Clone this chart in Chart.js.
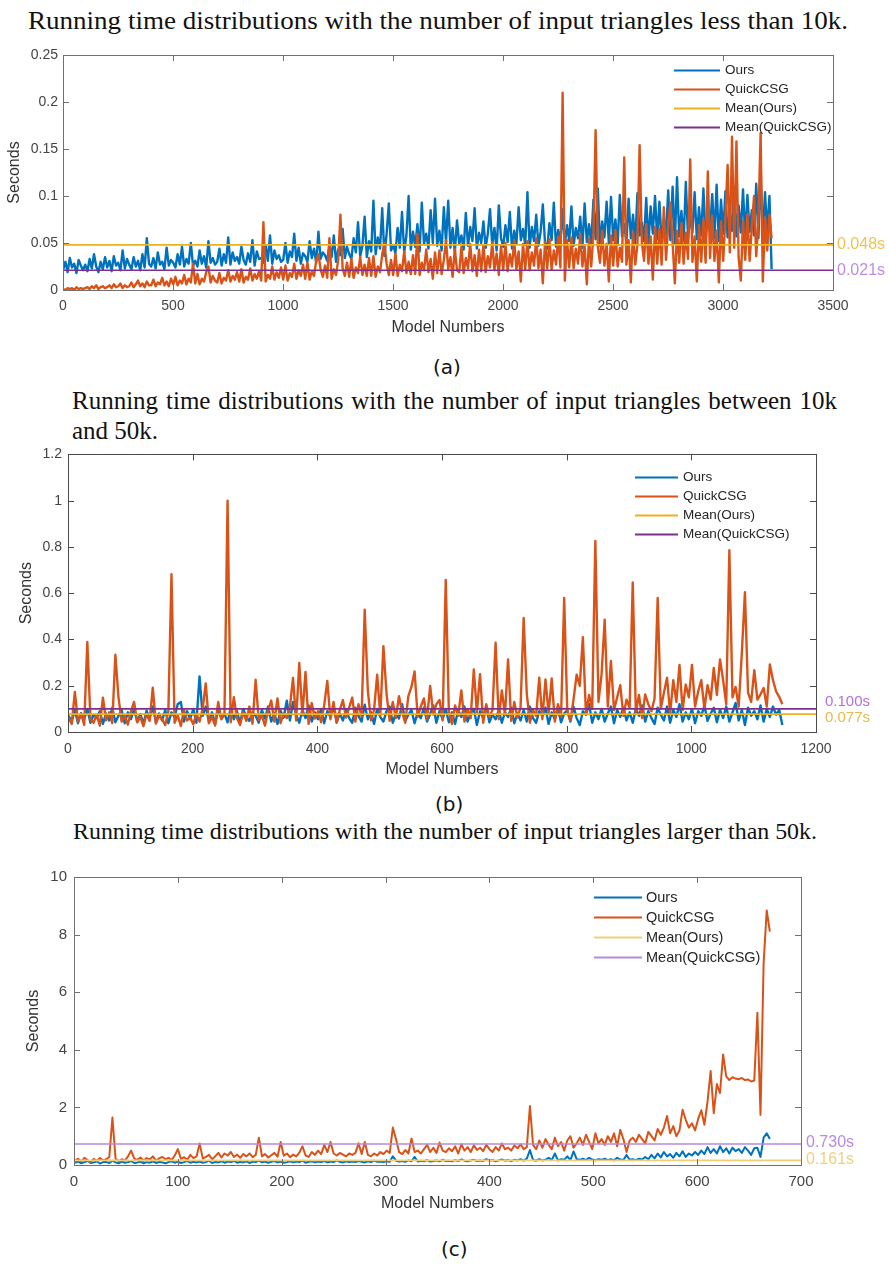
<!DOCTYPE html>
<html>
<head>
<meta charset="utf-8">
<script src="https://cdn.jsdelivr.net/npm/chart.js@4.4.0/dist/chart.umd.min.js"></script>
<style>
html,body{margin:0;padding:0;background:#fff;}
#page{position:relative;width:889px;height:1267px;overflow:hidden;background:#fff;}
canvas{position:absolute;left:0;}
.t{position:absolute;font-family:"Liberation Serif","Times New Roman",serif;color:#111;white-space:nowrap;transform-origin:0 0;line-height:1;}
.cap{position:absolute;font-family:"DejaVu Sans",Verdana,sans-serif;font-size:20px;color:#111;line-height:1;white-space:nowrap;}
</style>
</head>
<body>
<div id="page">
  <div class="t" data-w="820" data-mode="scale" style="left:28px;top:8px;font-size:25px;">Running time distributions with the number of input triangles less than 10k.</div>
  <canvas id="cA" width="889" height="300" style="top:40px;"></canvas>
  <div class="cap" style="left:433px;top:357px;">(a)</div>

  <div class="t" data-w="765" data-mode="justify" style="left:72px;top:388px;font-size:25px;">Running time distributions with the number of input triangles between 10k</div>
  <div class="t" style="left:72px;top:418px;font-size:25px;">and 50k.</div>
  <canvas id="cB" width="889" height="342" style="top:440px;"></canvas>
  <div class="cap" style="left:435px;top:794px;">(b)</div>

  <div class="t" data-w="744" data-mode="scale" style="left:73px;top:820px;font-size:23px;">Running time distributions with the number of input triangles larger than 50k.</div>
  <canvas id="cC" width="889" height="356" style="top:860px;"></canvas>
  <div class="cap" style="left:441px;top:1239px;">(c)</div>
</div>
<script>
// ---------------- DATA ----------------
const seriesNames = ['Ours', 'QuickCSG', 'Mean(Ours)', 'Mean(QuickCSG)'];

// Panel (a): < 10k triangles, one sample every 10 models, values in milliseconds
const modelStartA = 1, modelStepA = 10;
const oursA_ms = [
22,30,19,34,24,28,18,32,26,21,
27,20,33,23,38,25,19,30,22,35,
24,31,20,36,26,29,21,42,23,33,
27,22,35,25,31,21,38,24,55,28,
25,34,23,40,27,30,22,45,26,32,
29,24,38,27,46,25,33,28,50,26,
31,25,42,28,36,24,52,29,34,27,
30,44,26,38,29,56,27,40,31,35,
28,46,32,27,39,30,53,26,41,33,
34,29,48,31,58,28,42,33,37,30,
32,50,29,41,35,60,31,45,28,39,
36,30,52,34,44,29,62,33,40,37,
31,48,35,58,30,43,37,65,34,46,
38,33,55,40,72,36,47,78,35,52,
41,95,38,56,44,87,36,60,92,42,
48,39,66,45,83,40,58,100,43,62,
46,70,41,93,49,60,44,85,50,97,
47,63,42,88,51,95,45,66,40,74,
49,58,43,82,47,67,52,87,44,61,
50,73,45,60,86,48,66,42,90,55,
46,69,51,83,44,63,49,88,53,65,
48,104,45,67,52,80,47,62,91,50,
44,71,53,93,46,64,50,86,48,69,
52,89,47,66,55,78,45,92,51,70,
49,96,54,108,47,73,56,94,50,99,
53,75,48,101,57,70,51,97,55,80,
50,103,58,72,52,98,49,89,60,100,
54,94,51,76,59,106,53,110,50,120,
57,84,52,115,56,78,61,104,54,88,
58,108,53,80,62,102,55,112,52,96,
60,105,56,82,63,110,57,90,61,107,
56,101,62,85,58,113,55,122,60,104,
62,100,22];
const quickA_ms = [
1,0,2,1,2,0,3,1,2,1,
2,3,1,4,2,5,1,3,4,2,
3,5,2,6,3,4,7,2,5,3,
4,8,3,6,10,4,7,3,9,5,
5,11,4,8,6,13,5,9,4,12,
6,14,5,10,7,16,6,12,8,28,
7,17,6,12,9,19,25,8,15,10,
8,18,7,13,10,21,9,15,11,19,
9,22,8,14,11,23,10,17,12,20,
10,72,9,16,12,25,11,19,13,24,
11,26,10,18,14,28,12,21,15,27,
12,29,11,20,15,31,38,22,14,26,
13,55,12,22,16,32,80,23,15,29,
14,33,13,24,18,35,16,27,15,34,
15,36,14,25,19,38,50,28,16,32,
16,39,15,27,20,41,18,30,17,37,
17,60,16,29,21,43,19,33,12,40,
18,42,17,32,53,22,35,14,44,21,
19,46,18,34,23,49,20,37,15,43,
20,48,19,36,24,51,21,39,16,47,
21,50,20,38,25,53,22,41,9,49,
22,52,21,40,26,55,23,43,7,51,
23,54,22,42,27,57,24,210,10,53,
24,56,23,44,28,59,25,47,6,55,
25,60,170,46,29,63,26,49,9,58,
26,64,25,45,30,141,27,53,8,62,
27,48,154,51,31,70,28,57,11,67,
28,65,27,88,32,69,93,50,7,63,
29,71,28,61,33,139,30,57,9,69,
30,75,29,126,34,79,31,63,8,73,
31,77,133,40,163,45,158,35,10,74,
32,81,31,67,100,36,73,167,9,77,
42,80,55];
const meanOursA = 0.048, meanQuickA = 0.021;
const xTicksA = [0,500,1000,1500,2000,2500,3000,3500];
const yTicksA = [0,0.05,0.1,0.15,0.2,0.25];

// Panel (b): 10k - 50k triangles, one sample every 5 models, values in milliseconds
const modelStartB = 1, modelStepB = 5;
const oursB_ms = [
70,45,95,38,82,55,100,40,75,60,
90,35,80,50,105,42,70,95,38,85,
55,100,45,78,35,92,60,110,42,80,
50,95,38,85,65,120,130,45,90,55,
100,40,240,70,110,45,85,35,95,60,
80,42,105,55,90,38,100,65,48,85,
70,40,95,58,110,45,80,35,92,62,
135,50,130,75,40,95,60,115,45,85,
55,100,38,90,65,110,42,80,50,95,
60,40,105,70,45,118,55,85,35,100,
65,45,90,110,40,80,58,120,48,75,
95,38,85,60,105,45,78,115,40,90,
55,100,42,85,35,95,65,110,45,80,
100,30,90,60,110,42,75,55,95,40,
85,65,105,38,80,50,95,45,110,60,
40,90,70,105,35,85,55,100,42,80,
95,45,110,60,30,90,75,120,40,85,
55,100,45,80,110,38,95,65,105,50,
85,40,100,70,115,45,90,60,35,105,
75,50,110,40,95,65,120,45,85,55,
100,38,90,70,115,48,80,105,42,95,
60,110,45,85,125,50,95,30,105,70,
90,55,115,45,100,65,110,75,95,30];
const quickB_ms = [
60,35,173,45,80,30,389,55,40,75,
28,148,50,85,38,334,150,45,70,32,
90,130,42,65,25,78,48,192,36,70,
55,30,88,682,40,72,26,95,50,62,
33,80,45,100,210,38,66,28,130,55,
75,1000,42,150,60,30,85,48,110,36,
226,52,70,28,92,136,45,145,38,80,
60,110,234,50,298,72,260,35,125,58,
90,42,115,221,55,130,40,95,138,62,
105,149,45,120,68,529,180,50,95,248,
70,371,166,48,130,60,155,85,40,155,
195,262,65,110,145,55,199,75,120,138,
50,657,90,35,115,70,180,45,100,60,
270,85,250,40,120,65,95,386,55,180,
75,314,48,130,62,105,493,166,40,95,
70,235,55,227,80,231,45,120,68,579,
90,50,140,248,200,410,75,160,100,826,
130,250,485,110,307,95,150,202,70,140,
105,647,85,160,60,162,120,90,145,579,
100,170,235,80,224,130,290,95,205,150,
290,110,175,224,100,202,140,277,160,314,
224,120,786,150,195,110,341,604,170,130,
267,140,163,190,110,292,224,175,152,120];
const meanOursB = 0.077, meanQuickB = 0.100;
const xTicksB = [0,200,400,600,800,1000,1200];
const yTicksB = [0,0.2,0.4,0.6,0.8,1,1.2];

// Panel (c): > 50k triangles, one sample every 3 models, values in seconds
const modelStartC = 1, modelStepC = 3;
const oursC = [
0.08,0.12,0.06,0.1,0.14,0.07,0.09,0.13,0.05,0.1,
0.11,0.07,0.15,0.09,0.06,0.12,0.08,0.1,0.14,0.07,
0.09,0.12,0.06,0.1,0.08,0.13,0.07,0.11,0.09,0.06,
0.1,0.13,0.08,0.12,0.07,0.1,0.14,0.08,0.11,0.09,
0.12,0.08,0.1,0.15,0.07,0.11,0.09,0.13,0.08,0.12,
0.1,0.14,0.08,0.11,0.09,0.13,0.07,0.12,0.1,0.15,
0.09,0.12,0.08,0.11,0.14,0.09,0.12,0.08,0.1,0.13,
0.09,0.12,0.1,0.15,0.08,0.11,0.13,0.09,0.12,0.1,
0.14,0.09,0.12,0.1,0.16,0.11,0.09,0.13,0.1,0.12,
0.1,0.14,0.11,0.09,0.13,0.1,0.15,0.11,0.12,0.1,
0.13,0.11,0.3,0.15,0.12,0.14,0.11,0.16,0.13,0.28,
0.12,0.15,0.13,0.17,0.12,0.14,0.16,0.13,0.18,0.14,
0.15,0.13,0.17,0.14,0.19,0.15,0.13,0.16,0.18,0.14,
0.16,0.14,0.2,0.15,0.17,0.13,0.16,0.19,0.15,0.17,
0.14,0.18,0.16,0.2,0.15,0.22,0.52,0.17,0.15,0.2,
0.16,0.18,0.25,0.17,0.4,0.16,0.2,0.18,0.3,0.17,
0.47,0.2,0.18,0.22,0.17,0.25,0.19,0.16,0.2,0.18,
0.22,0.17,0.2,0.16,0.25,0.19,0.17,0.35,0.18,0.2,
0.17,0.22,0.19,0.28,0.2,0.35,0.23,0.4,0.26,0.45,
0.3,0.38,0.25,0.42,0.3,0.48,0.28,0.4,0.33,0.45,
0.35,0.5,0.38,0.62,0.42,0.55,0.4,0.65,0.45,0.58,
0.4,0.6,0.48,0.55,0.42,0.62,0.5,0.35,0.58,0.6,
0.28,0.95,1.1,0.9];
const quickC = [
0.15,0.22,0.12,0.25,0.17,0.1,0.21,0.14,0.24,0.16,
0.2,0.28,1.65,0.22,0.13,0.2,0.16,0.3,0.5,0.22,
0.18,0.26,0.14,0.24,0.19,0.3,0.15,0.23,0.28,0.2,
0.25,0.17,0.33,0.55,0.21,0.27,0.18,0.35,0.24,0.3,
0.75,0.22,0.28,0.35,0.2,0.3,0.42,0.26,0.4,0.33,
0.45,0.28,0.36,0.25,0.38,0.3,0.4,0.27,0.35,0.95,
0.3,0.38,0.26,0.34,0.42,0.29,0.8,0.32,0.4,0.27,
0.36,0.3,0.43,0.65,0.33,0.28,0.45,0.35,0.5,0.38,
0.7,0.45,0.8,0.4,0.33,0.42,0.36,0.3,0.4,0.35,
0.42,0.75,0.38,0.8,0.35,0.3,0.4,0.33,0.45,0.38,
0.5,0.42,1.3,0.9,0.45,0.38,0.52,0.4,0.92,0.45,
0.5,0.4,0.55,0.7,0.45,0.6,0.42,0.78,0.5,0.45,
0.58,0.48,0.65,0.4,0.72,0.5,0.62,0.45,0.68,0.52,
0.6,0.48,0.7,0.55,0.45,0.62,0.5,0.75,0.55,0.6,
0.5,0.68,0.58,0.72,0.55,0.62,2.05,0.7,0.55,0.85,
0.6,0.9,0.7,0.55,0.95,0.65,0.8,0.5,0.85,1.0,
0.6,0.75,0.95,0.7,1.05,0.8,0.55,1.1,0.75,0.9,
0.7,1.0,0.8,1.1,0.65,1.22,0.9,0.45,0.85,0.95,
0.8,1.05,0.9,0.75,1.15,1.0,0.85,1.25,1.05,1.3,
1.7,1.1,1.35,1.0,1.2,1.92,1.57,1.3,1.45,1.2,
1.6,1.9,1.4,2.2,3.26,1.8,2.81,2.5,3.84,3.08,
2.95,3.05,3.0,2.98,3.02,2.95,2.97,2.9,2.93,5.29,
1.74,7.0,8.84,8.1];
const meanOursC = 0.161, meanQuickC = 0.730;
const xTicksC = [0,100,200,300,400,500,600,700];
const yTicksC = [0,2,4,6,8,10];

// ---------------- RENDERING ----------------
const FONT = '"Liberation Sans", Arial, Helvetica, sans-serif';
const C_OURS = '#0072BD', C_QUICK = '#D95319';

function seriesPoints(values, start, step, unit) {
  return values.map((v, i) => ({ x: start + i * step, y: v * unit }));
}
function meanLine(value, xMin, xMax) {
  return [{ x: xMin, y: value }, { x: xMax, y: value }];
}
const fmt = v => String(+Number(v).toFixed(4));

const matlabAxes = {
  id: 'matlabAxes',
  afterDatasetsDraw(chart, args, o) {
    const { ctx, chartArea: a } = chart;
    const xs = chart.scales.x, ys = chart.scales.y;
    ctx.save();
    ctx.lineWidth = 1;
    ctx.strokeStyle = o.boxColor;
    const L = o.tickLen;
    ctx.beginPath();
    xs.ticks.forEach(t => {
      const p = Math.round(xs.getPixelForValue(t.value)) + 0.5;
      ctx.moveTo(p, a.bottom); ctx.lineTo(p, a.bottom - L);
      ctx.moveTo(p, a.top); ctx.lineTo(p, a.top + L);
    });
    ys.ticks.forEach(t => {
      const p = Math.round(ys.getPixelForValue(t.value)) + 0.5;
      ctx.moveTo(a.left, p); ctx.lineTo(a.left + L, p);
      ctx.moveTo(a.right, p); ctx.lineTo(a.right - L, p);
    });
    ctx.stroke();
    ctx.strokeRect(Math.round(a.left) + 0.5, Math.round(a.top) + 0.5,
                   Math.round(a.right - a.left), Math.round(a.bottom - a.top));
    // mean value labels at the right of the axes
    ctx.font = o.meanFont;
    ctx.textAlign = 'left';
    ctx.textBaseline = 'middle';
    o.meanLabels.forEach(m => {
      const v = chart.data.datasets[m.ds].data[0].y;
      ctx.fillStyle = m.color;
      ctx.fillText(v.toFixed(3) + 's', a.right + o.meanGap, ys.getPixelForValue(v) + m.dy);
    });
    // legend (no box, MATLAB style)
    const lg = o.legend;
    ctx.font = lg.font;
    chart.data.datasets.forEach((ds, i) => {
      const yy = Math.round(a.top + lg.top + i * lg.spacing) + 0.5;
      const x0 = a.left + lg.left;
      ctx.strokeStyle = ds.borderColor;
      ctx.lineWidth = lg.lineWidth;
      ctx.beginPath(); ctx.moveTo(x0, yy); ctx.lineTo(x0 + lg.lineLen, yy); ctx.stroke();
      ctx.fillStyle = lg.color;
      ctx.fillText(ds.label, x0 + lg.lineLen + lg.gap, yy);
    });
    ctx.restore();
  }
};

function makeChart(id, p) {
  const ds = [
    { label: seriesNames[0], data: seriesPoints(p.ours, p.start, p.step, p.unit), borderColor: C_OURS, borderWidth: p.lw, order: 4 },
    { label: seriesNames[1], data: seriesPoints(p.quick, p.start, p.step, p.unit), borderColor: C_QUICK, borderWidth: p.lw, order: 3 },
    { label: seriesNames[2], data: meanLine(p.meanOurs, p.xTicks[0], p.xTicks[p.xTicks.length - 1]), borderColor: p.cMeanOurs, borderWidth: p.mlw, order: 2 },
    { label: seriesNames[3], data: meanLine(p.meanQuick, p.xTicks[0], p.xTicks[p.xTicks.length - 1]), borderColor: p.cMeanQuick, borderWidth: p.mlw, order: 1 }
  ];
  ds.forEach(d => { d.pointRadius = 0; d.tension = 0; d.fill = false; d.borderJoinStyle = 'round'; });
  return new Chart(document.getElementById(id), {
    type: 'line',
    data: { datasets: ds },
    plugins: [matlabAxes],
    options: {
      responsive: false, animation: false, devicePixelRatio: 1, events: [],
      layout: { padding: { top: p.padTop, right: p.padRight, bottom: 0, left: 0 } },
      plugins: {
        legend: { display: false }, tooltip: { enabled: false },
        matlabAxes: {
          boxColor: p.boxColor, tickLen: 6, meanGap: p.meanGap, meanFont: p.meanFont,
          meanLabels: p.meanLabels,
          legend: p.legend
        }
      },
      scales: {
        x: {
          type: 'linear', min: p.xTicks[0], max: p.xTicks[p.xTicks.length - 1],
          afterBuildTicks: s => { s.ticks = p.xTicks.map(v => ({ value: v })); },
          afterFit: s => { s.height = p.xAxisH; },
          ticks: { padding: p.xTickPad, color: '#444', font: { family: FONT, size: p.tickSize }, maxRotation: 0, autoSkip: false, callback: fmt },
          grid: { display: false, drawTicks: false }, border: { display: false },
          title: { display: true, text: 'Model Numbers', color: '#333', font: { family: FONT, size: 16 }, padding: { top: 0, bottom: p.xTitlePad } }
        },
        y: {
          type: 'linear', min: p.yTicks[0], max: p.yTicks[p.yTicks.length - 1],
          afterBuildTicks: s => { s.ticks = p.yTicks.map(v => ({ value: v })); },
          afterFit: s => { s.width = p.yAxisW; },
          ticks: { padding: p.yTickPad, color: '#444', font: { family: FONT, size: p.tickSize }, autoSkip: false, callback: fmt },
          grid: { display: false, drawTicks: false }, border: { display: false },
          title: { display: true, text: 'Seconds', color: '#333', font: { family: FONT, size: 16 }, padding: { top: p.yTitlePad, bottom: 0 } }
        }
      }
    }
  });
}

makeChart('cA', {
  ours: oursA_ms, quick: quickA_ms, start: modelStartA, step: modelStepA, unit: 0.001,
  meanOurs: meanOursA, meanQuick: meanQuickA, xTicks: xTicksA, yTicks: yTicksA,
  lw: 2.4, mlw: 1.6, cMeanOurs: '#EDB120', cMeanQuick: '#7E2F8E', boxColor: '#707070',
  padTop: 15, padRight: 56, xAxisH: 50, yAxisW: 63, xTickPad: 8, yTickPad: 5, xTitlePad: 3, yTitlePad: 5, tickSize: 14,
  meanGap: 4, meanFont: '16px ' + FONT,
  meanLabels: [{ ds: 2, color: '#EFC356', dy: 0 }, { ds: 3, color: '#C08BE6', dy: 0 }],
  legend: { left: 611, top: 15, spacing: 19, lineLen: 46, gap: 5, lineWidth: 2, font: '13.5px ' + FONT, color: '#262626' }
});

makeChart('cB', {
  ours: oursB_ms, quick: quickB_ms, start: modelStartB, step: modelStepB, unit: 0.001,
  meanOurs: meanOursB, meanQuick: meanQuickB, xTicks: xTicksB, yTicks: yTicksB,
  lw: 2.4, mlw: 1.8, cMeanOurs: '#EDB120', cMeanQuick: '#7E2F8E', boxColor: '#4a4a4a',
  padTop: 12, padRight: 73, xAxisH: 50, yAxisW: 68, xTickPad: 8.5, yTickPad: 6, xTitlePad: 2.4, yTitlePad: 17, tickSize: 14,
  meanGap: 9, meanFont: '15px ' + FONT,
  meanLabels: [{ ds: 2, color: '#E9BA4C', dy: 4 }, { ds: 3, color: '#B470E0', dy: -7 }],
  legend: { left: 567, top: 23, spacing: 18.7, lineLen: 43, gap: 5, lineWidth: 2, font: '13.5px ' + FONT, color: '#262626' }
});

makeChart('cC', {
  ours: oursC, quick: quickC, start: modelStartC, step: modelStepC, unit: 1,
  meanOurs: meanOursC, meanQuick: meanQuickC, xTicks: xTicksC, yTicks: yTicksC,
  lw: 2.0, mlw: 1.6, cMeanOurs: '#F1CF78', cMeanQuick: '#B889DC', boxColor: '#707070',
  padTop: 17, padRight: 88, xAxisH: 51, yAxisW: 74, xTickPad: 8, yTickPad: 7, xTitlePad: 2.4, yTitlePad: 24, tickSize: 15,
  meanGap: 5, meanFont: '16px ' + FONT,
  meanLabels: [{ ds: 2, color: '#F0D07E', dy: -1 }, { ds: 3, color: '#B98AE0', dy: -1 }],
  legend: { left: 520, top: 20, spacing: 20, lineLen: 48, gap: 4, lineWidth: 2, font: '14.5px ' + FONT, color: '#262626' }
});

// fit the serif titles to the widths they have in the figure
document.querySelectorAll('.t[data-w]').forEach(el => {
  const w = el.getBoundingClientRect().width;
  const target = +el.dataset.w;
  if (el.dataset.mode === 'justify') {
    const spaces = (el.textContent.match(/ /g) || []).length;
    el.style.wordSpacing = ((target - w) / spaces) + 'px';
  } else {
    el.style.transform = 'scaleX(' + (target / w) + ')';
  }
});
</script>
</body>
</html>
